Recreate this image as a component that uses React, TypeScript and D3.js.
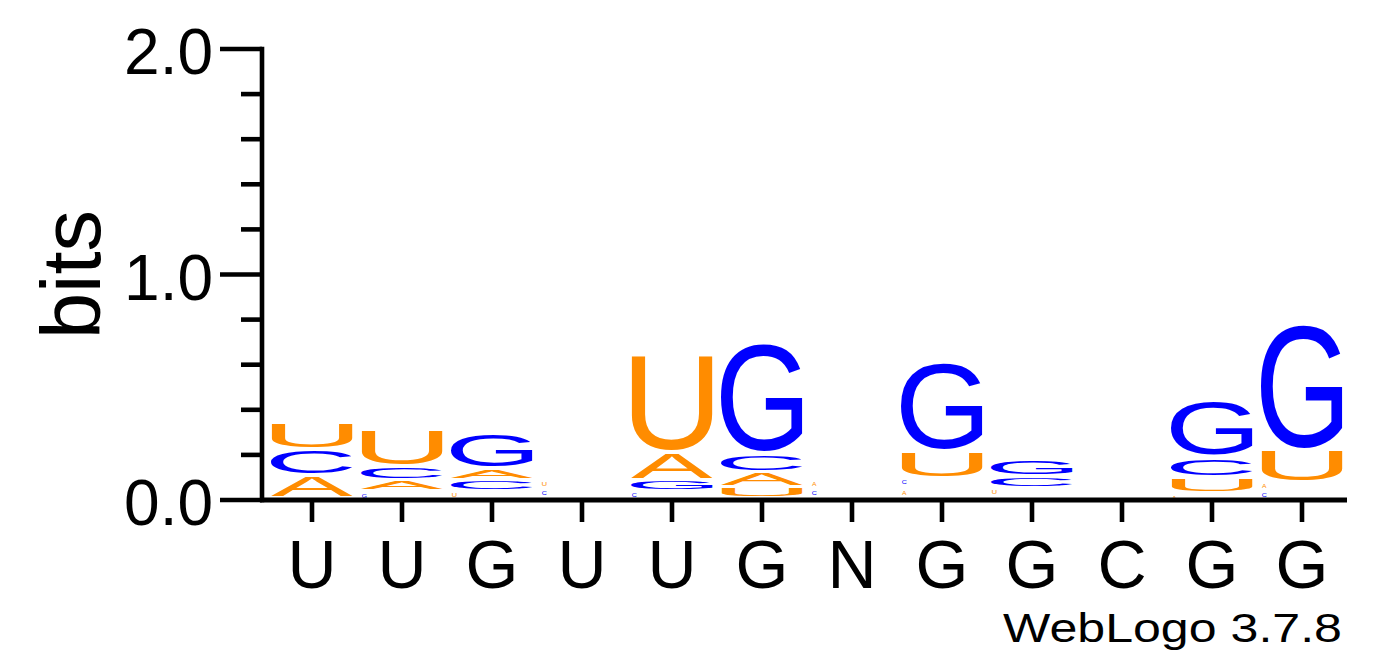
import React, { useMemo } from 'react';
import * as d3 from 'd3';

// consensus labels under each stack
const positions = ['U', 'U', 'G', 'U', 'U', 'G', 'N', 'G', 'G', 'C', 'G', 'G'];

const bitsA = [0.100, 0.050, 0.053, 0.000, 0.124, 0.067, 0.043, 0.044, 0.000, 0.000, 0.022, 0.036];
const bitsC = [0.115, 0.062, 0.049, 0.040, 0.031, 0.080, 0.040, 0.045, 0.053, 0.000, 0.089, 0.035];
const bitsG = [0.000, 0.030, 0.155, 0.000, 0.050, 0.492, 0.000, 0.395, 0.075, 0.000, 0.248, 0.559];
const bitsU = [0.120, 0.168, 0.031, 0.043, 0.430, 0.050, 0.000, 0.120, 0.045, 0.000, 0.071, 0.146];

const yMajor = [0, 1, 2];
const yMinor = [0.2, 0.4, 0.6, 0.8, 1.2, 1.4, 1.6, 1.8];

const W = 1392;
const H = 667;
const FONT = '"Liberation Sans", Arial, Helvetica, sans-serif';
const colors: { [k: string]: string } = { A: '#FF8C00', U: '#FF8C00', C: '#0000FF', G: '#0000FF' };

const SPECK = 0.048; // letters below this get drawn as tiny specks, like the weblogo render

type Ink = { left: number; right: number; ascent: number; descent: number };

function measure(ch: string): Ink {
    const ctx = document.createElement('canvas').getContext('2d')!;
    ctx.font = `100px ${FONT}`;
    const m = ctx.measureText(ch);
    return {
        left: m.actualBoundingBoxLeft,
        right: m.actualBoundingBoxRight,
        ascent: m.actualBoundingBoxAscent,
        descent: m.actualBoundingBoxDescent,
    };
}

// glyph stretched so its ink fills the box x0..x1, yTop..yBot
const Glyph = ({ ch, ink, x0, x1, yTop, yBot }: { ch: string; ink: Ink; x0: number; x1: number; yTop: number; yBot: number }) => {
    const sx = (x1 - x0) / (ink.left + ink.right);
    const sy = (yBot - yTop) / (ink.ascent + ink.descent);
    return (
        <text
            x={0}
            y={0}
            fontFamily={FONT}
            fontSize={100}
            fill={colors[ch]}
            transform={`translate(${x0 + ink.left * sx},${yTop + ink.ascent * sy}) scale(${sx},${sy})`}
        >
            {ch}
        </text>
    );
};

export default function App() {
    const x = d3.scaleBand<number>().domain(d3.range(positions.length)).range([267, 1347]).padding(0);
    const y = d3.scaleLinear().domain([0, 2]).range([500, 49]);

    const inks = useMemo(() => {
        const r: { [k: string]: Ink } = {};
        ['A', 'C', 'G', 'U'].forEach((c) => (r[c] = measure(c)));
        return r;
    }, []);

    const stacks = positions.map((_, i) => {
        const letters = [
            { ch: 'A', bits: bitsA[i] },
            { ch: 'C', bits: bitsC[i] },
            { ch: 'G', bits: bitsG[i] },
            { ch: 'U', bits: bitsU[i] },
        ]
            .filter((d) => d.bits > 0)
            .sort((a, b) => a.bits - b.bits);
        let acc = 0;
        return letters.map((d) => {
            const lo = acc;
            acc += d.bits;
            return { ...d, lo, hi: acc };
        });
    });

    const axisW = 4.6;

    return (
        <svg width={W} height={H} style={{ position: 'absolute', left: 0, top: 0, background: '#fff' }}>
            <rect width={W} height={H} fill="#fff" />

            {/* stacks */}
            {stacks.map((stack, i) => {
                const left = x(i)!;
                const right = left + x.bandwidth();
                return (
                    <g key={i}>
                        {stack.map((d, j) => {
                            const top = y(d.hi);
                            const bot = y(d.lo);
                            if (d.bits < SPECK) {
                                return (
                                    <Glyph key={j} ch={d.ch} ink={inks[d.ch]} x0={left + 5} x1={left + 9.5} yTop={top + 0.5} yBot={top + 4.5} />
                                );
                            }
                            return (
                                <Glyph key={j} ch={d.ch} ink={inks[d.ch]} x0={left + 4} x1={right - 4} yTop={top} yBot={bot - 3.8} />
                            );
                        })}
                    </g>
                );
            })}

            {/* y axis */}
            <line x1={262} x2={262} y1={y(2) - axisW / 2} y2={y(0) + axisW / 2} stroke="#000" strokeWidth={axisW} />
            {yMajor.map((t) => (
                <g key={t}>
                    <line x1={220} x2={262} y1={y(t)} y2={y(t)} stroke="#000" strokeWidth={axisW} />
                    <text x={213} y={y(t) + 25} textAnchor="end" fontFamily={FONT} fontSize={64} fill="#000">
                        {d3.format('.1f')(t)}
                    </text>
                </g>
            ))}
            {yMinor.map((t) => (
                <line key={t} x1={241} x2={262} y1={y(t)} y2={y(t)} stroke="#000" strokeWidth={axisW} />
            ))}
            <text transform={`translate(100,${y(1)}) rotate(-90)`} textAnchor="middle" fontFamily={FONT} fontSize={83} fill="#000">
                bits
            </text>

            {/* x axis */}
            <line x1={260} x2={1347} y1={y(0)} y2={y(0)} stroke="#000" strokeWidth={5} />
            {positions.map((p, i) => {
                const cx = x(i)! + x.bandwidth() / 2;
                return (
                    <g key={i}>
                        <line x1={cx} x2={cx} y1={y(0)} y2={522} stroke="#000" strokeWidth={axisW} />
                        <text x={cx} y={588} textAnchor="middle" fontFamily={FONT} fontSize={68} fill="#000">
                            {p}
                        </text>
                    </g>
                );
            })}

            <text x={1003} y={642} fontFamily={FONT} fontSize={40} textLength={339} lengthAdjust="spacingAndGlyphs" fill="#000">
                WebLogo 3.7.8
            </text>
        </svg>
    );
}
